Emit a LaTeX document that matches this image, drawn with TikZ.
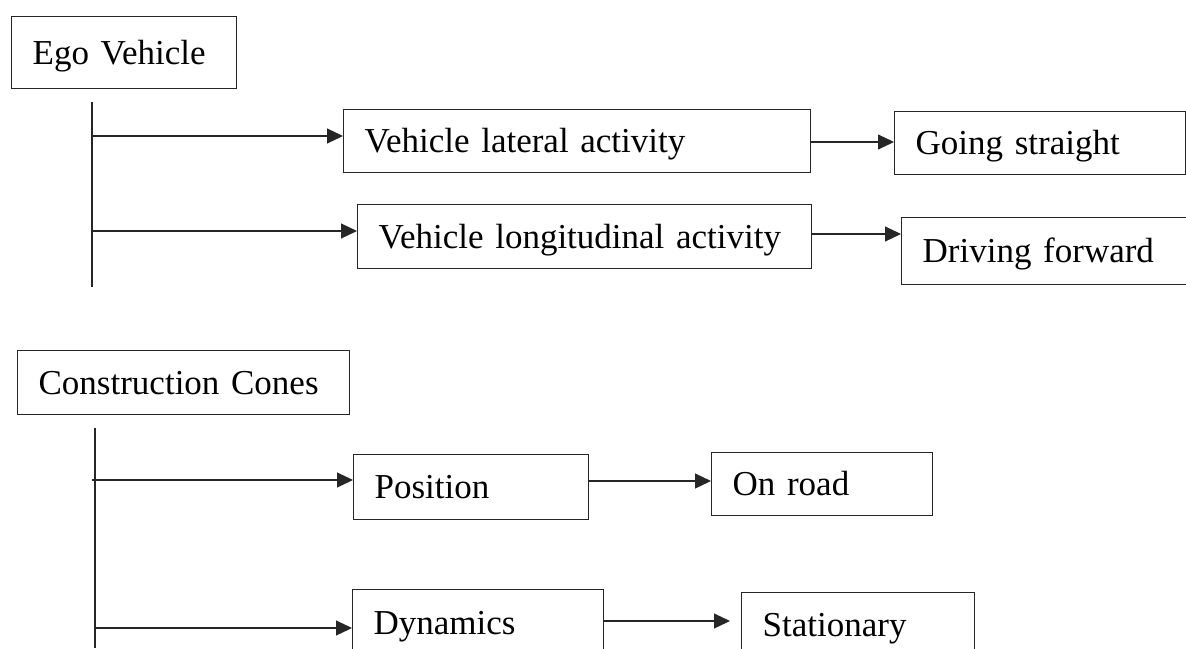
\documentclass[tikz,border=0pt]{standalone}
\usepackage{fontspec}
\setmainfont{Liberation Serif}
\usetikzlibrary{arrows.meta}
\begin{document}
\begin{tikzpicture}[x=1pt,y=-1pt,
  box/.style={draw=black!85, line width=1.3pt, inner xsep=21pt, inner ysep=0pt,
    anchor=north west, font=\fontsize{35}{40}\selectfont, text height=23pt, text depth=0pt},
  conn/.style={draw=black!85, line width=1.1pt},
  arr/.style={conn, -{Triangle[length=16pt,width=15pt]}}]
\useasboundingbox (0,0) rectangle (1186,648);
\clip (0,0) rectangle (1186,648);
% boxes
\node[box, text width=183pt, minimum height=72pt] (ego) at (11,16) {Ego Vehicle};
\node[box, text width=425pt, minimum height=63pt] (lat) at (343,109) {Vehicle lateral activity};
\node[box, text width=412pt, minimum height=64pt] (long) at (357,204) {Vehicle longitudinal activity};
\node[box, text width=249pt, minimum height=63pt] (going) at (894,111) {Going straight};
\node[box, text width=249pt, minimum height=67pt] (drive) at (901,217) {Driving forward};
\node[box, text width=290pt, minimum height=64pt] (cones) at (17,350) {Construction Cones};
\node[box, text width=193pt, minimum height=65pt] (pos) at (353,454) {Position};
\node[box, text width=179pt, minimum height=63pt] (onroad) at (711,452) {On road};
\node[box, text width=209pt, minimum height=66pt] (dyn) at (352,589) {Dynamics};
\node[box, text width=191pt, minimum height=64pt] (stat) at (741,592) {Stationary};
% Ego vehicle tree
\coordinate (ea) at (92,102);
\coordinate (eb) at (92,287);
\draw[conn] (ea) -- (eb);
\coordinate (e1) at (91,136);
\coordinate (e2) at (93,231);
\draw[arr] (e1) -- (e1 -| lat.west);
\draw[arr] (e2) -- (e2 -| long.west);
\coordinate (r1) at (0,142);
\coordinate (r2) at (0,234);
\draw[arr] (lat.east |- r1) -- (going.west |- r1);
\draw[arr] (long.east |- r2) -- (drive.west |- r2);
% Construction cones tree
\coordinate (ca) at (95,428);
\coordinate (cb) at (95,648);
\draw[conn] (ca) -- (cb);
\coordinate (c1) at (92,480);
\coordinate (c2) at (95,628);
\draw[arr] (c1) -- (c1 -| pos.west);
\draw[arr] (c2) -- (c2 -| dyn.west);
\coordinate (r3) at (0,481);
\coordinate (r4) at (0,621);
\draw[arr] (pos.east |- r3) -- (onroad.west |- r3);
\draw[arr, shorten >=11pt] (dyn.east |- r4) -- (stat.west |- r4);
\end{tikzpicture}
\end{document}
